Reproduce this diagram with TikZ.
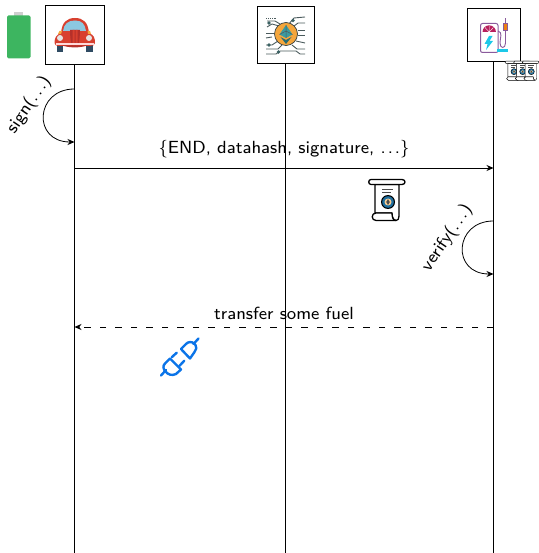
\documentclass[tikz,border=0pt]{standalone}
\usetikzlibrary{arrows.meta}
\definecolor{batgreen}{HTML}{3DB560}
\definecolor{batcap}{HTML}{CFCFCF}
\definecolor{carred}{HTML}{D8402F}
\definecolor{cardark}{HTML}{B5302A}
\definecolor{carglass}{HTML}{8CC8E0}
\definecolor{cartyre}{HTML}{2F4B63}
\definecolor{ethorange}{HTML}{F5A63C}
\definecolor{ethteal}{HTML}{3C9AA0}
\definecolor{circuit}{HTML}{4A5A5C}
\definecolor{pumppurple}{HTML}{8A5A9C}
\definecolor{pumpred}{HTML}{B8205E}
\definecolor{pumpcyan}{HTML}{1CC8E8}
\definecolor{plugblue}{HTML}{0B74E8}
\definecolor{sealblue}{HTML}{1F6F9F}
\newcommand{\biglab}[1]{\scalebox{2.2}{\sffamily\fontsize{8}{10}\selectfont #1}}
\newcommand{\wdots}{.\kern.9pt.\kern.9pt.}
\tikzset{
  actor/.style={draw=black,line width=1pt,fill=none,inner sep=0pt,minimum width=#1,minimum height=#1},
  lifeline/.style={draw=black,line width=0.8pt},
  msg/.style={draw=black,line width=0.8pt,-{Stealth[length=7pt,width=6pt]}},
  lab/.style={inner sep=0pt},
  pics/scrollicon/.style={code={
    \draw[line width=#1,line join=round,fill=white] (-13,-15.5) -- (-13,13) -- (4,13) .. controls (4,17) and (5,20.5) .. (8,20.5)
       .. controls (10,20.5) and (11,19) .. (11,16) -- (11,-15.5) -- cycle;
    \draw[line width=#1,line join=round,fill=white] (-17,-20.5) -- (14,-20.5) .. controls (18,-20.5) and (18,-15.5) .. (14,-15.5)
       -- (-17,-15.5) .. controls (-20,-15.5) and (-20,-20.5) .. (-17,-20.5) -- cycle;
    \draw[line width=#1,line join=round,fill=white] (8,20.5) -- (-12,20.5) .. controls (-17,20.5) and (-17,13) .. (-12,13) -- (4,13)
       .. controls (4,17) and (5,20.5) .. (8,20.5) -- cycle;
    \draw[line width=.7pt,black!70] (-6,-11) -- (5,-11) (-6,-8) -- (3,-8);
    \fill[black] (0,2) circle (7);
    \fill[sealblue] (0,2) circle (5.8);
    \fill[ethorange!55!white] (0,2) circle (3.5);
    \fill[black!70] (0,-.8) -- (1.8,2) -- (0,5) -- (-1.8,2) -- cycle;
  }}
}
\begin{document}
\begin{tikzpicture}[x=1pt,y=-1pt]
\useasboundingbox (0,0) rectangle (538,553);
% battery
\fill[batcap] (14,12) rectangle (23,16);
\fill[batgreen,rounded corners=1.5pt] (7,15.5) rectangle (30.5,58.5);
% actors
\node[actor=59pt] (car) at (74.5,35.5) {};
\node[actor=57pt] (chain) at (285.5,35.5) {};
\node[actor=53pt] (station) at (493.5,35.5) {};
\coordinate (carEnd) at (74.5,553);
\coordinate (chainEnd) at (285.5,553);
\coordinate (stationEnd) at (493.5,553);
\draw[lifeline] (car.south) -- (carEnd);
\draw[lifeline] (chain.south) -- (chainEnd);
\draw[lifeline] (station.south) -- (stationEnd);
% car icon
\fill[cartyre] (56.5,44) rectangle (62.5,52.5);
\fill[cartyre] (85.5,44) rectangle (93,52.5);
\fill[carred] (61,33) .. controls (62,22) and (67,18) .. (75,18) .. controls (83,18) and (88,22) .. (89,33)
  .. controls (94,35) and (95,38) .. (95,43) .. controls (95,45) and (93,46) .. (90,46) -- (60,46)
  .. controls (56,46) and (54.5,45) .. (54.5,43) .. controls (54.5,38) and (56,35) .. (61,33) -- cycle;
\fill[carglass] (63,31) .. controls (64,24) and (68,20.5) .. (75,20.5) .. controls (82,20.5) and (85,24) .. (86,31) -- cycle;
\fill[cardark] (70,30) .. controls (70,36) and (71,44) .. (72,47) -- (78,47) .. controls (79,44) and (80,36) .. (80,30) -- cycle;
\fill[carred] (72.5,30) rectangle (74.5,46) (75.5,30) rectangle (77.5,46);
\fill[white!85!red] (56,43.5) rectangle (93.5,45.5);
\fill[cardark] (62,45.5) .. controls (70,48) and (80,48) .. (87,45.5) -- cycle;
\fill[white!90!black] (60,38) circle (3);
\fill[white!90!black] (89,38) circle (3);
\fill[ethorange] (59.5,31) -- (62,31) -- (61,34) -- (58,34) -- cycle (87.5,31) -- (90,31) -- (91,34) -- (88,34) -- cycle;
% ethereum circuit icon
\begin{scope}[draw=circuit,line width=.9pt]
\draw (288,25) -- (294,18) -- (305,17);
\draw (280,24) -- (275,21) -- (267,21);
\draw (294,26) -- (298,23) -- (305,23);
\draw (267,27) -- (272,24) -- (279,26);
\draw (266,33) -- (274,33);
\draw (298,35.5) -- (305,35.5);
\draw (272,37) -- (266,38);
\draw (298,30) -- (305,30);
\draw (266,45) -- (272,45) -- (278,41);
\draw (296,41) -- (305,43);
\draw (266,49) -- (278,49) -- (282,45);
\draw (292,45) -- (297,49) -- (305,49);
\draw (266,54) -- (276,54) -- (280,51) -- (296,51) -- (300,54) -- (305,54);
\draw[densely dotted,line width=1.1pt] (266,18.5) -- (276,18.5);
\end{scope}
\foreach \p in {(269,23),(293,20.5),(269,45),(278.5,52)} \fill[circuit!80!teal] \p circle (1.8);
\fill[ethorange] (286,34) circle (11.5);
\draw[circuit!70!black,line width=.7pt] (286,34) circle (11.5);
\fill[ethteal] (286,25) -- (292.5,34.5) -- (286,38) -- (279.5,34.5) -- cycle;
\fill[ethteal!70!black] (280.5,37) -- (286,40) -- (291.5,37) -- (286,44) -- cycle;
\draw[circuit,line width=.5pt] (286,25) -- (286,38) (279.5,34.5) -- (286,31) -- (292.5,34.5);
% charging station icon
\draw[pumppurple,line width=1pt,rounded corners=2pt] (480.5,23.5) rectangle (498,52.5);
\fill[pumpred] (482.5,32) arc[start angle=180,end angle=360,radius=6.7] -- cycle;
\draw[white,line width=.4pt] (489.2,32) -- (489.2,26) (489.2,32) -- (485,27.5) (489.2,32) -- (493.4,27.5);
\fill[pumpcyan] (489,36) -- (484.5,44) -- (487.5,44) -- (486,50) -- (493,41) -- (489.5,41) -- (492.5,36) -- cycle;
\draw[pumppurple,line width=.9pt] (498,31) .. controls (503,32) and (500,38) .. (500,43) .. controls (500,49) and (505.5,49) .. (505.5,43) -- (505.5,30);
\fill[pumpcyan] (497,49) rectangle (507.5,52.5);
\fill[orange!70!brown] (503.5,23) rectangle (507,30);
\draw[pumppurple,line width=.7pt] (505.2,18.5) -- (505.2,23) (503.5,23) rectangle (507,30);
% small scrolls and big scroll
\pic[scale=.47] at (514,70.7) {scrollicon={.45pt}};
\pic[scale=.47] at (522.7,70.7) {scrollicon={.45pt}};
\pic[scale=.47] at (531.3,70.7) {scrollicon={.45pt}};
\pic at (388,200) {scrollicon={1.3pt}};
% plug
\begin{scope}[draw=plugblue,line width=2.4pt,line cap=round,line join=round]
\draw (161,375.5) -- (166,370);
\draw (170,358.5) -- (181,369.5) -- (176,374) .. controls (172,376) and (168,374.5) .. (166,372) .. controls (163,369) and (162.5,366) .. (165,363.5) -- cycle;
\draw (171.7,357.3) -- (176.7,352.7) (179.3,366) -- (184.3,360.7);
\draw (181,349) -- (186,344) .. controls (188,341.5) and (192,341.5) .. (194,343.5) -- (195.5,345) .. controls (197,347) and (196.5,349.5) .. (194.5,352) -- (190,358.5) -- cycle;
\draw (193.5,344) -- (198.5,338.5);
\end{scope}
% loops
\coordinate (a1) at (74.5,89);
\coordinate (a2) at (74.5,142);
\coordinate (b1) at (493.5,221);
\coordinate (b2) at (493.5,274);
\draw[msg] (a1) .. controls (35,89) and (32,142) .. (a2);
\draw[msg] (b1) .. controls (454,221) and (451,274) .. (b2);
\node[lab,rotate=56] (signlab) at (29,105) {\biglab{sign(\wdots)}};
\node[lab,rotate=56] (verifylab) at (447,238) {\biglab{verify(\wdots)}};
% messages
\coordinate (m1a) at (74.5,168);
\coordinate (m1b) at (493.5,168);
\coordinate (m2a) at (493.5,327);
\coordinate (m2b) at (74.5,327);
\draw[msg] (m1a) -- (m1b);
\draw[msg,dash pattern=on 6.5pt off 9pt] (m2a) -- (m2b);
\node[lab] (m1lab) at (284,149) {\biglab{\{END, datahash, signature, \wdots\}}};
\node[lab] (m2lab) at (284,313) {\biglab{transfer some fuel}};
\end{tikzpicture}
\end{document}
